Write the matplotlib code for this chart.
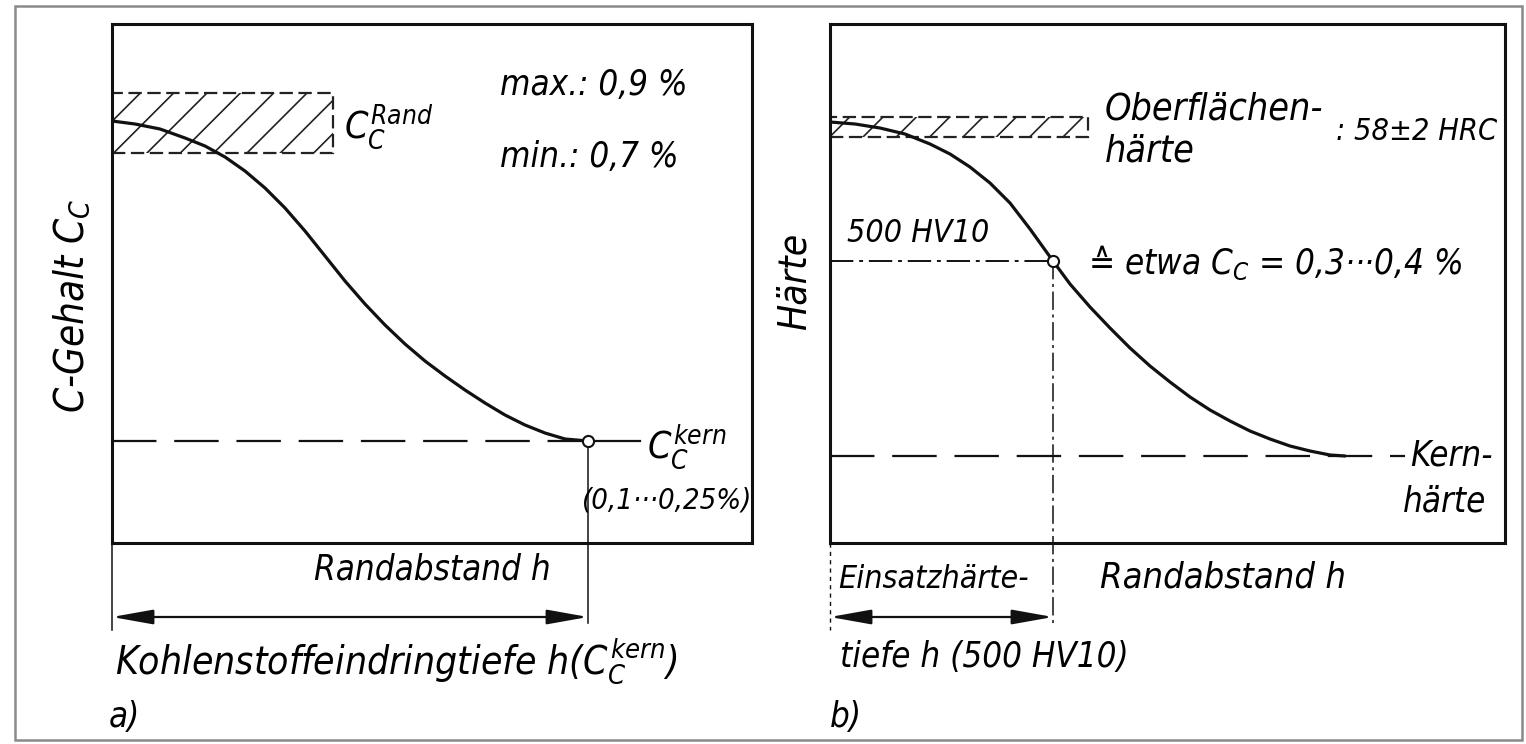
import numpy as np
import matplotlib
matplotlib.use("Agg")
import matplotlib.pyplot as plt
from matplotlib import font_manager
from matplotlib.patches import Rectangle

# narrow italic lettering, close to the DIN script of the drawing
cond = [f for f in font_manager.fontManager.ttflist
        if f.name == 'DejaVu Sans' and f.stretch == 'condensed']
stretch = 'condensed' if cond else 'normal'
plt.rcParams['font.family'] = ['DejaVu Sans']
plt.rcParams['font.style'] = 'italic'
plt.rcParams['font.stretch'] = stretch
plt.rcParams['mathtext.fontset'] = 'custom'
plt.rcParams['mathtext.it'] = 'DejaVu Sans:style=italic:stretch=' + stretch
plt.rcParams['mathtext.rm'] = 'DejaVu Sans:style=italic:stretch=' + stretch
plt.rcParams['hatch.linewidth'] = 1.2

# ---- data (schematic units) ----
# a) carbon content over distance from surface
depth_a = [0, 23, 48, 73, 93, 113, 133, 153, 173, 193, 213, 233, 253, 273, 293, 313,
           333, 353, 373, 393, 413, 433, 453, 476]
carbon_a = [422, 419, 414, 405, 397, 386, 372, 355, 335, 312, 287, 262, 239, 218, 199, 182,
            167, 153, 140, 128, 118, 110, 104, 102]
c_kern = 102            # core carbon level
h_kern = 476            # carbon penetration depth
band_a = (390, 450)     # C_Rand min / max
band_a_len = 221

# b) hardness over distance from surface
depth_b = [0, 25, 50, 75, 100, 120, 140, 160, 180, 200, 223, 240, 260, 280, 300, 320,
           340, 360, 380, 400, 420, 440, 460, 480, 500, 515]
hard_b = [421, 419, 415, 409, 399, 389, 376, 360, 340, 314, 282, 259, 236, 215, 195, 177,
          161, 146, 133, 122, 112, 104, 97, 92, 88, 87]
hv_500 = 282            # 500 HV10 level
h_500 = 223             # case hardening depth
kern_b = 87             # core hardness
band_b = (406, 426)     # surface hardness 58 +- 2 HRC
band_b_len = 258

W, H = 1526, 744
FS = 25
fig = plt.figure(figsize=(W / 100, H / 100), dpi=100)
fig.patch.set_facecolor('white')

ax_a = fig.add_axes([112 / W, 1 - 543 / H, 640 / W, 519 / H])
ax_b = fig.add_axes([830 / W, 1 - 543 / H, 675 / W, 519 / H])
for ax, xmax in ((ax_a, 640), (ax_b, 675)):
    ax.set_xlim(0, xmax)
    ax.set_ylim(0, 519)
    ax.set_xticks([])
    ax.set_yticks([])
    for s in ax.spines.values():
        s.set_linewidth(2.2)
        s.set_color('#111111')

# outer frame
fig.add_artist(Rectangle((15 / W, 4 / H), 1507 / W, 734 / H, transform=fig.transFigure,
                         fill=False, ec='#8a8a8a', lw=1.8))

arrow = dict(arrowstyle='<|-|>,head_length=1.4,head_width=0.25', color='#111111',
             lw=1.6, shrinkA=0, shrinkB=0, mutation_scale=18)
dashed = (0, (20, 8))
dashdot = (0, (12, 3, 2, 3))

# ---------------- a) ----------------
ax = ax_a
ax.add_patch(Rectangle((0, band_a[0]), band_a_len, band_a[1] - band_a[0], fill=False,
                       hatch='/', ec='#222222', lw=1.6, ls=(0, (6, 2.5))))
ax.plot(depth_a, carbon_a, color='#111111', lw=2.3, solid_capstyle='round')
ax.plot([0, h_kern], [c_kern, c_kern], color='#111111', lw=1.6, ls=dashed)
ax.plot([h_kern, h_kern + 52], [c_kern, c_kern], color='#111111', lw=1.6)
ax.plot([h_kern, h_kern], [c_kern, -80], color='#111111', lw=1.1, clip_on=False)
ax.plot([0, 0], [0, -87], color='#111111', lw=1.1, clip_on=False)
ax.plot([h_kern], [c_kern], 'o', ms=8, mfc='white', mec='#111111', mew=1.5, zorder=5)
ax.annotate('', xy=(0, -74), xytext=(h_kern, -74), arrowprops=arrow, annotation_clip=False)

ax.text(388, 458, 'max.: 0,9 %', fontsize=FS, va='center')
ax.text(388, 386, 'min.: 0,7 %', fontsize=FS, va='center')
ax.text(232, 416, r'$C_C^{Rand}$', fontsize=FS + 2, va='center')
ax.text(535, 96, r'$C_C^{kern}$', fontsize=FS + 2, va='center')
ax.text(640, 43, '(0,1···0,25%)', fontsize=FS - 4, va='center', ha='right')
ax.text(-40, 237, r'C-Gehalt $C_C$', fontsize=FS + 4, rotation=90, va='center',
        ha='center', clip_on=False)
ax.text(320, -27, 'Randabstand h', fontsize=FS, va='center', ha='center')
ax.text(3, -118, r'Kohlenstoffeindringtiefe h($C_C^{kern}$)', fontsize=FS + 3, va='center')
ax.text(-3, -174, 'a)', fontsize=FS, va='center')

# ---------------- b) ----------------
ax = ax_b
ax.add_patch(Rectangle((0, band_b[0]), band_b_len, band_b[1] - band_b[0], fill=False,
                       hatch='/', ec='#222222', lw=1.6, ls=(0, (6, 2.5))))
ax.plot(depth_b, hard_b, color='#111111', lw=2.3, solid_capstyle='round')
ax.plot([0, 575], [kern_b, kern_b], color='#111111', lw=1.6, ls=dashed)
ax.plot([0, h_500], [hv_500, hv_500], color='#111111', lw=1.4, ls=dashdot)
ax.plot([h_500, h_500], [hv_500, -82], color='#111111', lw=1.1, ls=dashdot, clip_on=False)
ax.plot([0, 0], [0, -87], color='#111111', lw=1.0, ls=(0, (3, 3)), clip_on=False)
ax.plot([h_500], [hv_500], 'o', ms=8, mfc='white', mec='#111111', mew=1.5, zorder=5)
ax.annotate('', xy=(0, -74), xytext=(h_500, -74), arrowprops=arrow, annotation_clip=False)

ax.text(275, 433, 'Oberflächen-', fontsize=FS + 2, va='center')
ax.text(275, 391, 'härte', fontsize=FS + 2, va='center')
ax.text(506, 411, ': 58±2 HRC', fontsize=FS - 3, va='center')
ax.text(17, 310, '500 HV10', fontsize=FS - 2, va='center')
ax.text(258, 280, r'≙ etwa $C_C$ = 0,3···0,4 %', fontsize=FS, va='center')
ax.text(580, 88, 'Kern-', fontsize=FS, va='center')
ax.text(573, 41, 'härte', fontsize=FS, va='center')
ax.text(-35, 262, 'Härte', fontsize=FS + 3, rotation=90, va='center', ha='center',
        clip_on=False)
ax.text(8, -37, 'Einsatzhärte-', fontsize=FS - 2, va='center')
ax.text(270, -35, 'Randabstand h', fontsize=FS + 1, va='center')
ax.text(10, -114, 'tiefe h (500 HV10)', fontsize=FS, va='center')
ax.text(0, -174, 'b)', fontsize=FS, va='center')

fig.savefig('out.png', dpi=100, facecolor='white')
